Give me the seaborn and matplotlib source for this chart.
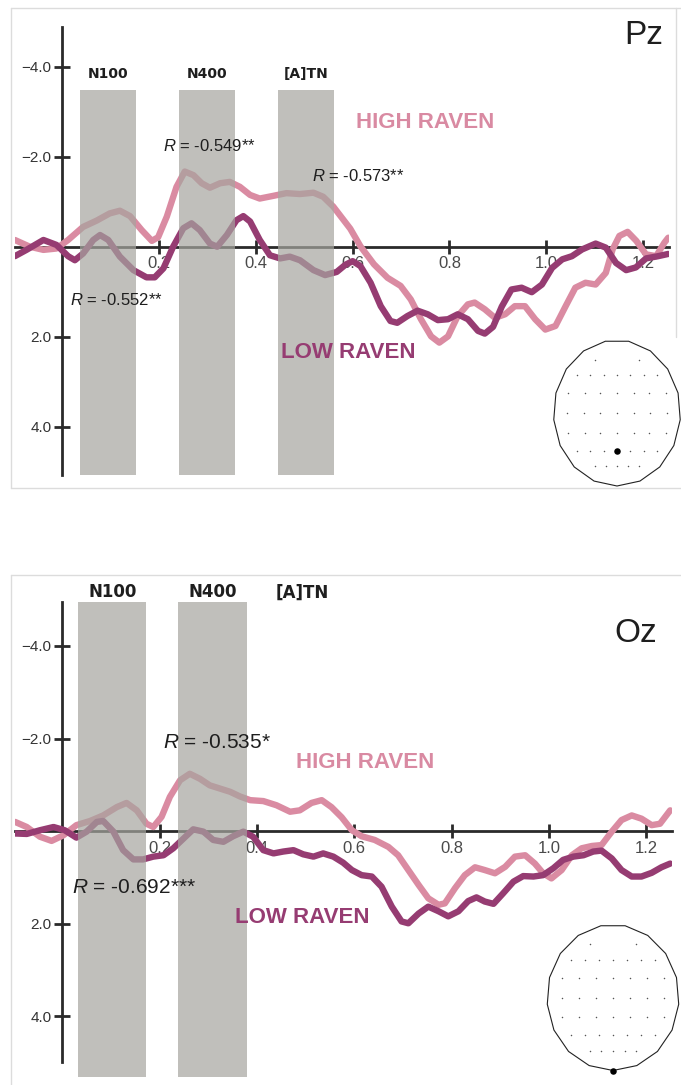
import numpy as np
import pandas as pd
import matplotlib
matplotlib.use("Agg")
import matplotlib.pyplot as plt
from matplotlib import font_manager
from matplotlib.patches import Polygon
import seaborn as sns

# ---------------------------------------------------------------- data
# Grand-average ERP amplitude (µV, negative up) by Raven group, electrode Pz
t_pz_high = [-0.098, -0.067, -0.039, -0.012, 0.012, 0.043, 0.071, 0.098, 0.119, 0.140,
             0.164, 0.185, 0.198, 0.216, 0.236, 0.253, 0.271, 0.288, 0.305, 0.326,
             0.346, 0.367, 0.388, 0.408, 0.436, 0.463, 0.491, 0.519, 0.539, 0.560,
             0.575, 0.595, 0.616, 0.644, 0.672, 0.699, 0.720, 0.741, 0.762, 0.779,
             0.797, 0.817, 0.838, 0.852, 0.873, 0.894, 0.915, 0.935, 0.956, 0.977,
             0.998, 1.019, 1.040, 1.060, 1.081, 1.102, 1.123, 1.137, 1.151, 1.168,
             1.186, 1.206, 1.227, 1.244, 1.252]
v_pz_high = [-0.15, 0.00, 0.07, 0.04, -0.15, -0.44, -0.58, -0.74, -0.80, -0.68,
             -0.37, -0.13, -0.21, -0.67, -1.33, -1.67, -1.59, -1.41, -1.31, -1.41,
             -1.44, -1.33, -1.15, -1.07, -1.13, -1.19, -1.17, -1.20, -1.11, -0.89,
             -0.68, -0.40, -0.01, 0.39, 0.69, 0.87, 1.17, 1.61, 1.99, 2.13,
             1.99, 1.54, 1.28, 1.24, 1.39, 1.58, 1.50, 1.32, 1.32, 1.61,
             1.84, 1.76, 1.32, 0.91, 0.80, 0.84, 0.58, 0.06, -0.24, -0.33,
             -0.13, 0.17, 0.21, -0.09, -0.20]

t_pz_low = [-0.098, -0.074, -0.039, -0.012, 0.012, 0.026, 0.043, 0.064, 0.078, 0.095,
            0.119, 0.147, 0.174, 0.191, 0.209, 0.229, 0.250, 0.267, 0.284, 0.305,
            0.320, 0.340, 0.360, 0.374, 0.388, 0.408, 0.429, 0.450, 0.470, 0.491,
            0.519, 0.543, 0.567, 0.585, 0.600, 0.616, 0.637, 0.658, 0.678, 0.692,
            0.713, 0.734, 0.755, 0.776, 0.797, 0.817, 0.838, 0.859, 0.873, 0.890,
            0.908, 0.928, 0.949, 0.970, 0.991, 1.012, 1.033, 1.053, 1.074, 1.102,
            1.123, 1.144, 1.165, 1.185, 1.206, 1.231, 1.252]
v_pz_low = [0.21, 0.07, -0.15, -0.04, 0.21, 0.30, 0.15, -0.15, -0.26, -0.15,
            0.22, 0.52, 0.68, 0.68, 0.48, 0.00, -0.41, -0.52, -0.37, -0.07,
            0.00, -0.26, -0.59, -0.68, -0.56, -0.15, 0.19, 0.26, 0.22, 0.30,
            0.52, 0.63, 0.56, 0.40, 0.32, 0.43, 0.80, 1.32, 1.65, 1.69,
            1.54, 1.42, 1.50, 1.63, 1.61, 1.50, 1.61, 1.87, 1.93, 1.78,
            1.33, 0.95, 0.91, 1.01, 0.84, 0.47, 0.28, 0.21, 0.06, -0.07,
            0.02, 0.36, 0.52, 0.46, 0.26, 0.21, 0.16]

# Same measure at electrode Oz
t_oz_high = [-0.097, -0.073, -0.046, -0.022, 0.002, 0.029, 0.057, 0.084, 0.112, 0.132,
             0.153, 0.173, 0.187, 0.204, 0.221, 0.242, 0.262, 0.283, 0.303, 0.324,
             0.345, 0.365, 0.386, 0.413, 0.440, 0.468, 0.488, 0.512, 0.533, 0.553,
             0.574, 0.595, 0.615, 0.642, 0.670, 0.690, 0.711, 0.732, 0.752, 0.773,
             0.786, 0.807, 0.827, 0.848, 0.868, 0.889, 0.910, 0.930, 0.951, 0.971,
             0.988, 1.005, 1.026, 1.047, 1.067, 1.088, 1.108, 1.129, 1.149, 1.170,
             1.190, 1.211, 1.228, 1.249]
v_oz_high = [-0.20, -0.09, 0.12, 0.21, 0.09, -0.13, -0.22, -0.34, -0.52, -0.61,
             -0.45, -0.16, -0.09, -0.31, -0.74, -1.10, -1.24, -1.13, -0.99, -0.92,
             -0.85, -0.75, -0.67, -0.65, -0.56, -0.42, -0.45, -0.61, -0.67, -0.52,
             -0.30, -0.02, 0.11, 0.19, 0.34, 0.52, 0.84, 1.16, 1.45, 1.59,
             1.56, 1.23, 0.95, 0.78, 0.84, 0.91, 0.77, 0.55, 0.52, 0.70,
             0.91, 1.02, 0.84, 0.52, 0.37, 0.32, 0.30, 0.01, -0.24, -0.34,
             -0.27, -0.13, -0.16, -0.45]

t_oz_low = [-0.097, -0.073, -0.046, -0.018, 0.005, 0.029, 0.050, 0.071, 0.084, 0.105,
            0.125, 0.146, 0.166, 0.187, 0.208, 0.228, 0.249, 0.269, 0.290, 0.310,
            0.331, 0.351, 0.372, 0.392, 0.413, 0.434, 0.454, 0.475, 0.495, 0.516,
            0.536, 0.557, 0.577, 0.595, 0.615, 0.636, 0.656, 0.677, 0.697, 0.711,
            0.732, 0.752, 0.773, 0.793, 0.814, 0.834, 0.851, 0.868, 0.886, 0.906,
            0.927, 0.947, 0.968, 0.988, 1.009, 1.029, 1.050, 1.071, 1.091, 1.108,
            1.129, 1.149, 1.170, 1.190, 1.211, 1.231, 1.249]
v_oz_low = [0.05, 0.06, -0.02, -0.09, -0.02, 0.14, 0.01, -0.20, -0.22, 0.01,
            0.41, 0.61, 0.61, 0.55, 0.52, 0.37, 0.16, -0.04, 0.01, 0.19,
            0.23, 0.11, 0.01, 0.12, 0.41, 0.48, 0.44, 0.41, 0.50, 0.55,
            0.48, 0.55, 0.68, 0.84, 0.95, 0.98, 1.20, 1.63, 1.95, 1.99,
            1.78, 1.63, 1.73, 1.84, 1.73, 1.51, 1.43, 1.52, 1.57, 1.34,
            1.09, 0.97, 0.98, 0.95, 0.80, 0.62, 0.55, 0.52, 0.44, 0.42,
            0.59, 0.84, 0.98, 0.98, 0.90, 0.78, 0.70]

# Analysis windows (s)
windows_pz = [("N100", 0.036, 0.152), ("N400", 0.241, 0.357), ("[A]TN", 0.446, 0.562)]
windows_oz = [("N100", 0.033, 0.173), ("N400", 0.238, 0.380)]
atn_label_oz = 0.493

x_ticks = [0.2, 0.4, 0.6, 0.8, 1.0, 1.2]
x_ticklabels = ["0.2", "0.4", "0.6", "0.8", "1.0", "1.2"]
y_ticks = [-4.0, -2.0, 2.0, 4.0]
y_ticklabels = ["\u22124.0", "\u22122.0", "2.0", "4.0"]

groups = ["HIGH RAVEN", "LOW RAVEN"]

# Correlation annotations: (text, time, amplitude)
corr_pz = [("-0.549**", 0.208, -2.24), ("-0.573**", 0.516, -1.57), ("-0.552**", 0.016, 1.18)]
corr_oz = [("-0.535*", 0.207, -1.92), ("-0.692***", 0.020, 1.21)]

# Scalp layout (normalised head coordinates, rows front to back)
elec_rows_y = [0.73, 0.52, 0.27, 0.0, -0.27, -0.52, -0.73]
elec_rows_x = [
    [-0.35, 0.35],
    [-0.63, -0.42, -0.21, 0.0, 0.21, 0.42, 0.63],
    [-0.77, -0.51, -0.26, 0.0, 0.26, 0.51, 0.77],
    [-0.78, -0.52, -0.26, 0.0, 0.26, 0.52, 0.78],
    [-0.77, -0.51, -0.26, 0.0, 0.26, 0.51, 0.77],
    [-0.63, -0.42, -0.21, 0.0, 0.21, 0.42, 0.63],
    [-0.35, -0.175, 0.0, 0.175, 0.35],
]
pz_pos = (0.0, -0.52)
oz_pos = (0.0, -1.0)

# ---------------------------------------------------------------- style
sns.set_style("white")
available = {f.name for f in font_manager.fontManager.ttflist}


def pick(*names):
    for n in names:
        if n in available:
            return n
    return "DejaVu Sans"


SANS = pick("Liberation Sans", "Arimo", "DejaVu Sans")
plt.rcParams["font.family"] = [SANS, "DejaVu Sans"]
plt.rcParams["mathtext.fontset"] = "custom"
plt.rcParams["mathtext.it"] = f"{SANS}:italic"
plt.rcParams["mathtext.rm"] = SANS

C_HIGH = "#da8ba2"
C_LOW = "#963c72"
C_HIGH_TXT = "#d98aa2"
C_LOW_TXT = "#963c72"
C_BAND = "#a6a59f"
C_AXIS = "#2a2a2a"
C_FRAME = "#dcdcdc"

W, H = 681, 1085
fig = plt.figure(figsize=(W / 100, H / 100), dpi=100)


def px_axes(x0, y0, x1, y1, **kw):
    return fig.add_axes([x0 / W, 1 - y1 / H, (x1 - x0) / W, (y1 - y0) / H], **kw)


# light panel frames
bg = px_axes(0, 0, W, H, zorder=-5)
bg.set_xlim(0, W)
bg.set_ylim(H, 0)
bg.axis("off")
for xs, ys in [([11, 681], [8, 8]), ([11, 11], [8, 488]), ([11, 681], [488, 488]),
               ([676, 676], [8, 337]), ([11, 681], [575, 575]), ([11, 11], [575, 1085])]:
    bg.plot(xs, ys, color=C_FRAME, lw=1.0)


def draw_panel(ax, t_high, v_high, t_low, v_low, xlim, ylim, spine_bounds,
               windows, band_top, band_label_y, label_size, corr, corr_size,
               high_pos, low_pos, name, name_xy, extra_labels=()):
    df_h = pd.DataFrame({"time": t_high, "amp": v_high, "group": groups[0]})
    df_l = pd.DataFrame({"time": t_low, "amp": v_low, "group": groups[1]})
    common = dict(x="time", y="amp", sort=False, estimator=None, legend=False, ax=ax,
                  lw=4.6, solid_joinstyle="round", solid_capstyle="round", zorder=3)
    sns.lineplot(data=df_h, color=C_HIGH, **common)
    sns.lineplot(data=df_l, color=C_LOW, **common)

    ax.set_xlim(*xlim)
    ax.set_ylim(*ylim)
    for label, t0, t1 in windows:
        ax.fill_between([t0, t1], band_top, ylim[0], color=C_BAND, alpha=0.7, lw=0, zorder=4)
        ax.text((t0 + t1) / 2, band_label_y, label, ha="center", va="center",
                fontsize=label_size, fontweight="bold", family="DejaVu Sans",
                color="#1e1e1e", clip_on=False)
    for label, tx in extra_labels:
        ax.text(tx, band_label_y, label, ha="center", va="center",
                fontsize=label_size, fontweight="bold", family="DejaVu Sans",
                color="#1e1e1e", clip_on=False)

    ax.patch.set_alpha(0)
    ax.spines["left"].set_position(("data", 0))
    ax.spines["bottom"].set_position(("data", 0))
    ax.spines["top"].set_visible(False)
    ax.spines["right"].set_visible(False)
    for s in ("left", "bottom"):
        ax.spines[s].set_linewidth(2.0)
        ax.spines[s].set_color(C_AXIS)
    ax.spines["left"].set_bounds(*spine_bounds)
    ax.set_xticks(x_ticks)
    ax.set_xticklabels(x_ticklabels)
    ax.set_yticks(y_ticks)
    ax.set_yticklabels(y_ticklabels)
    ax.tick_params(axis="x", bottom=True, top=False, direction="inout", length=10,
                   width=2, color=C_AXIS, labelsize=12, labelcolor="#4a4a4a", pad=2)
    ax.tick_params(axis="y", left=True, right=False, direction="inout", length=11.5,
                   width=2, color=C_AXIS, labelsize=11, labelcolor="#333333", pad=2)
    ax.set_xlabel("")
    ax.set_ylabel("")

    for txt, tx, ty in corr:
        ax.text(tx, ty, r"$R$ = " + txt, ha="left", va="center", fontsize=corr_size,
                color="#1e1e1e", zorder=6)
    ax.text(high_pos[0], high_pos[1], groups[0], ha="left", va="center", fontsize=16,
            fontweight="bold", color=C_HIGH_TXT, zorder=6)
    ax.text(low_pos[0], low_pos[1], groups[1], ha="left", va="center", fontsize=16,
            fontweight="bold", color=C_LOW_TXT, zorder=6)
    fig.text(name_xy[0] / W, 1 - name_xy[1] / H, name, ha="center", va="center",
             fontsize=24, color="#1e1e1e")


# ---- Pz panel
ax_pz = px_axes(15, 27, 668.5, 475)
draw_panel(ax_pz, t_pz_high, v_pz_high, t_pz_low, v_pz_low,
           xlim=(-0.0977, 1.2525), ylim=(5.07, -4.88), spine_bounds=(-4.88, 5.07),
           windows=windows_pz, band_top=-3.49, band_label_y=-3.84, label_size=10,
           corr=corr_pz, corr_size=12, high_pos=(0.607, -2.77), low_pos=(0.452, 2.34),
           name="Pz", name_xy=(644, 35))

# ---- Oz panel
ax_oz = px_axes(14.6, 602, 671.6, 1077)
draw_panel(ax_oz, t_oz_high, v_oz_high, t_oz_low, v_oz_low,
           xlim=(-0.098, 1.2519), ylim=(5.31, -4.95), spine_bounds=(-4.95, 4.99),
           windows=windows_oz, band_top=-4.95, band_label_y=-5.16, label_size=12,
           corr=corr_oz, corr_size=15, high_pos=(0.48, -1.49), low_pos=(0.355, 1.86),
           name="Oz", name_xy=(636, 633), extra_labels=[("[A]TN", atn_label_oz)])


# ---- scalp insets
def draw_head(cx, cy, rx, ry, mark):
    m = 5
    hax = px_axes(cx - rx - m, cy - ry - m, cx + rx + m, cy + ry + m, zorder=5)
    hax.set_xlim(-(rx + m) / rx, (rx + m) / rx)
    hax.set_ylim(-(ry + m) / ry, (ry + m) / ry)
    hax.axis("off")
    ang = np.deg2rad(270 + np.arange(17) * 360 / 17)
    hax.add_patch(Polygon(np.c_[np.cos(ang), np.sin(ang)], closed=True,
                          fc="white", ec="#222222", lw=0.8))
    ex = [x for row in elec_rows_x for x in row]
    ey = [y for row, y in zip(elec_rows_x, elec_rows_y) for _ in row]
    hax.scatter(ex, ey, s=1.2, c="#555555", lw=0, zorder=3)
    hax.scatter([mark[0]], [mark[1]], s=22, c="black", lw=0, zorder=4)


draw_head(617, 413, 63.5, 73, pz_pos)
draw_head(613, 997.5, 66, 73, oz_pos)

fig.savefig("out.png", dpi=100)
